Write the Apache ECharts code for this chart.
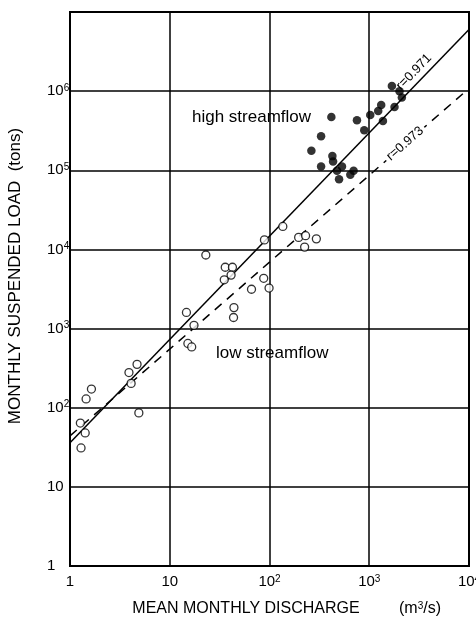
<!DOCTYPE html>
<html>
<head>
<meta charset="utf-8">
<script src="https://cdn.jsdelivr.net/npm/echarts@6/dist/echarts.min.js"></script>
<style>
html,body{margin:0;padding:0;background:#fff;overflow:hidden;}
#chart{width:476px;height:619px;}
</style>
</head>
<body>
<div id="chart"></div>
<script>
// ---- data ----
// high streamflow (filled dots): discharge (m3/s), load (tons)
const highQ = [1687, 2010, 2123, 1791, 1318, 1230, 1023, 1371, 753, 417, 891, 329, 263, 427, 434, 329, 533, 475, 697, 646, 498];
const highLoad = [1160000, 1000000, 830000, 630000, 670000, 560000, 500000, 420000, 430000, 470000, 320000, 270000, 176000, 151000, 129000, 112000, 112000, 99000, 99000, 88000, 77000];
// low streamflow (open circles)
const lowQ = [136, 89, 23, 196, 230, 295, 225, 36, 42.5, 35.2, 41.2, 87.5, 66, 99, 44, 43.6, 14.7, 17.5, 15.2, 16.6, 3.9, 4.7, 4.1, 1.64, 1.45, 4.9, 1.27, 1.42, 1.29];
const lowLoad = [19500, 13200, 8500, 14200, 14900, 13600, 10700, 5950, 5950, 4130, 4740, 4320, 3140, 3250, 1840, 1380, 1600, 1100, 649, 586, 278, 353, 203, 172, 129, 86, 64, 48, 31];
// regression lines
const solidQ = [1, 10000];
const solidLoad = [36, 6000000];
const dashedQ = [1, 9300];
const dashedLoad = [44, 1000000];
// tick labels
const xTickLabels = ['1', '10', '10{sup|2}', '10{sup|3}', '10{sup|4}'];
const yTickLabels = ['1', '10', '10{sup|2}', '10{sup|3}', '10{sup|4}', '10{sup|5}', '10{sup|6}', ''];
// texts
const xTitle = 'MEAN MONTHLY DISCHARGE';
const xUnit = '(m{sup|3}/s)';
const yTitle = 'MONTHLY SUSPENDED LOAD  (tons)';
const highText = 'high streamflow';
const lowText = 'low streamflow';
const rSolid = 'r=0.971';
const rDashed = 'r=0.973';

const FONT = '"Liberation Sans", Arial, Helvetica, sans-serif';
const zip = (a, b) => a.map((v, i) => [v, b[i]]);
const decadeIndex = v => Math.round(Math.log10(v));

const chart = echarts.init(document.getElementById('chart'), null, {renderer: 'canvas', width: 476, height: 619});
const supRich = { sup: { fontSize: 10, verticalAlign: 'top', fontFamily: FONT, color: '#000', padding: [0, 0, 6, 0] } };

chart.setOption({
  animation: false,
  backgroundColor: '#fff',
  grid: { left: 70, right: 7, top: 12, bottom: 53, show: true, borderColor: '#000', borderWidth: 2, backgroundColor: 'transparent',
    containLabel: false, outerBoundsMode: 'none' },
  xAxis: {
    type: 'log', logBase: 10, min: 1, max: 10000,
    axisLine: { show: true, lineStyle: { color: '#000', width: 2 } },
    axisTick: { show: false },
    minorTick: { show: false },
    splitLine: { show: true, lineStyle: { color: '#000', width: 1.5 } },
    axisLabel: {
      color: '#000', fontSize: 15, fontFamily: FONT, margin: 8, hideOverlap: false,
      formatter: v => xTickLabels[decadeIndex(v)] || '',
      rich: supRich
    }
  },
  yAxis: {
    type: 'log', logBase: 10, min: 1, max: 10000000,
    axisLine: { show: true, lineStyle: { color: '#000', width: 2 } },
    axisTick: { show: false },
    splitLine: { show: true, lineStyle: { color: '#000', width: 1.5 } },
    axisLabel: {
      color: '#000', fontSize: 15, fontFamily: FONT, margin: 23, align: 'left',
      formatter: v => yTickLabels[decadeIndex(v)] || '',
      rich: supRich
    }
  },
  series: [
    { type: 'line', data: zip(solidQ, solidLoad), symbol: 'none', lineStyle: { color: '#000', width: 1.5 }, z: 3 },
    { type: 'line', data: zip(dashedQ, dashedLoad), symbol: 'none', lineStyle: { color: '#000', width: 1.5, type: [9, 7] }, z: 3 },
    { type: 'scatter', data: zip(lowQ, lowLoad), symbol: 'circle', symbolSize: 8,
      itemStyle: { color: '#fff', borderColor: '#000', borderWidth: 1.3 }, z: 5 },
    { type: 'scatter', data: zip(highQ, highLoad), symbol: 'circle', symbolSize: 8.5,
      itemStyle: { color: '#000' }, z: 5 }
  ]
});

// annotations placed relative to the data coordinates
const px = (x, y) => chart.convertToPixel({ gridIndex: 0 }, [x, y]);
const pSolid = px(3300, 1420000);
const pDashed = px(2290, 217000);
const p0 = px(1, 1), p1 = px(10, 10);
const dx = p1[0] - p0[0], dy = p0[1] - p1[1];
const aSolid = Math.atan(1.305 * dy / dx);
const aDashed = Math.atan(1.10 * dy / dx);
const txt = (o) => Object.assign({ type: 'text', z: 100 }, o);

chart.setOption({
  graphic: [
    txt({ x: 192, y: 117, style: { text: highText, font: '17px ' + FONT, fill: '#000', verticalAlign: 'middle', align: 'left' } }),
    txt({ x: 216, y: 353, style: { text: lowText, font: '17px ' + FONT, fill: '#000', verticalAlign: 'middle', align: 'left' } }),
    txt({ x: pSolid[0] - 7, y: pSolid[1] - 7, rotation: aSolid,
      style: { text: rSolid, font: '13px ' + FONT, fill: '#000', align: 'center', verticalAlign: 'middle' } }),
    txt({ x: pDashed[0], y: pDashed[1], rotation: aDashed,
      style: { text: rDashed, font: '13px ' + FONT, fill: '#000', align: 'center', verticalAlign: 'middle', backgroundColor: '#fff', padding: [1, 3] } }),
    txt({ x: 246, y: 609, style: { text: xTitle, font: '16px ' + FONT, fill: '#000', align: 'center', verticalAlign: 'middle' } }),
    txt({ x: 420, y: 609, style: { text: xUnit, font: '16px ' + FONT, fill: '#000', align: 'center', verticalAlign: 'middle',
      rich: { sup: { fontSize: 10, verticalAlign: 'top', fontFamily: FONT, padding: [0, 0, 6, 0] } } } }),
    txt({ x: 15, y: 276, rotation: Math.PI / 2,
      style: { text: yTitle, font: '17px ' + FONT, fill: '#000', align: 'center', verticalAlign: 'middle' } })
  ]
});
</script>
</body>
</html>
